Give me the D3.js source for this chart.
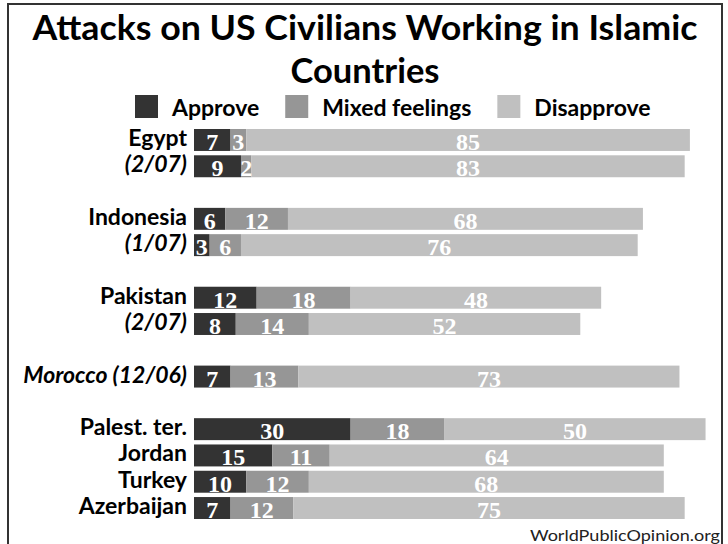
<!DOCTYPE html>
<html>
<head>
<meta charset="utf-8">
<script src="https://cdn.jsdelivr.net/npm/d3@7"></script>
<style>
  body { margin: 0; background: #fff; }
  svg { display: block; }
</style>
</head>
<body>
<svg id="chart"></svg>
<script>
// ----- data -----
const categories = ["Egypt", "(2/07)", "Indonesia", "(1/07)", "Pakistan", "(2/07)",
    "Morocco (12/06)", "Palest. ter.", "Jordan", "Turkey", "Azerbaijan"];
// which survey block each row belongs to (blocks are separated by an empty row)
const surveyGroup = [0, 0, 1, 1, 2, 2, 3, 4, 4, 4, 4];
const approve = [7, 9, 6, 3, 12, 8, 7, 30, 15, 10, 7];
const mixed = [3, 2, 12, 6, 18, 14, 13, 18, 11, 12, 12];
const disapprove = [85, 83, 68, 76, 48, 52, 73, 50, 64, 68, 75];
const seriesNames = ["Approve", "Mixed feelings", "Disapprove"];
const titleLines = ["Attacks on US Civilians Working in Islamic", "Countries"];
const source = "WorldPublicOpinion.org";

// ----- setup -----
let svgWidth = 728;
let svgHeight = 544;
let colors = ["#333333", "#969696", "#c0c0c0"];
let labelFont = "Lato, 'Open Sans', sans-serif";

let svg = d3.select("#chart")
    .attr("width", svgWidth)
    .attr("height", svgHeight)
    .style("font-family", labelFont);

svg.append("rect")
    .attr("x", 8).attr("y", 4)
    .attr("width", 714).attr("height", 600)
    .attr("fill", "none")
    .attr("stroke", "#333")
    .attr("stroke-width", 2);

// title (widths taken from the original layout)
let titleWidths = [665, 149];
svg.selectAll("text.title")
    .data(titleLines)
    .enter()
    .append("text")
    .attr("class", "title")
    .attr("x", svgWidth / 2 + 1)
    .attr("y", (d, i) => 40 + i * 43)
    .attr("text-anchor", "middle")
    .attr("font-size", 35)
    .attr("font-weight", "bold")
    .attr("textLength", (d, i) => titleWidths[i])
    .attr("lengthAdjust", "spacingAndGlyphs")
    .text(d => d);

// legend, laid out one item after the other
let legend = svg.append("g").attr("transform", "translate(135, 95)");
let legendX = 0;
seriesNames.forEach(function(name, i) {
    let item = legend.append("g").attr("transform", `translate(${legendX}, 0)`);
    item.append("rect")
        .attr("width", 23).attr("height", 23)
        .attr("fill", colors[i]);
    let t = item.append("text")
        .attr("x", 37).attr("y", 21)
        .attr("font-size", 23)
        .attr("font-weight", "bold")
        .text(name);
    legendX += 37 + t.node().getComputedTextLength() + 26;
});

// rows with an empty slot between survey blocks
let rowKeys = [];
categories.forEach(function(c, i) {
    if (i > 0 && surveyGroup[i] !== surveyGroup[i - 1]) rowKeys.push("gap" + i);
    rowKeys.push("row" + i);
});

let y = d3.scaleBand()
    .domain(rowKeys)
    .range([129, 519])
    .paddingInner(0.165)
    .paddingOuter(0);

let x = d3.scaleLinear()
    .domain([0, 100])
    .range([194, 716]);

let rows = categories.map(function(c, i) {
    return { key: "row" + i, label: c, values: [approve[i], mixed[i], disapprove[i]] };
});

let segments = [];
rows.forEach(function(r) {
    let start = 0;
    r.values.forEach(function(v, j) {
        segments.push({ key: r.key, start: start, value: v, series: j });
        start += v;
    });
});

let bars = svg.append("g");

bars.selectAll("rect")
    .data(segments)
    .enter()
    .append("rect")
    .attr("x", d => x(d.start))
    .attr("y", d => y(d.key))
    .attr("width", d => x(d.start + d.value) - x(d.start))
    .attr("height", y.bandwidth())
    .attr("fill", d => colors[d.series]);

bars.selectAll("text")
    .data(segments)
    .enter()
    .append("text")
    .attr("x", d => x(d.start + d.value / 2))
    .attr("y", d => y(d.key) + y.bandwidth() - 1)
    .attr("text-anchor", "middle")
    .attr("font-family", "'Liberation Serif', serif")
    .attr("font-weight", "bold")
    .attr("font-size", 24)
    .attr("fill", "#fff")
    .text(d => d.value);

// row labels
svg.append("g")
    .selectAll("text")
    .data(rows)
    .enter()
    .append("text")
    .attr("x", 187)
    .attr("y", d => y(d.key) + y.bandwidth() - 5)
    .attr("text-anchor", "end")
    .attr("font-size", 23)
    .attr("font-weight", "bold")
    .attr("font-style", d => d.label.indexOf("(") >= 0 ? "italic" : "normal")
    .text(d => d.label);

// source
svg.append("text")
    .attr("x", 720)
    .attr("y", 541)
    .attr("text-anchor", "end")
    .attr("font-size", 15)
    .attr("fill", "#222")
    .attr("textLength", 190)
    .attr("lengthAdjust", "spacingAndGlyphs")
    .text(source);
</script>
</body>
</html>
